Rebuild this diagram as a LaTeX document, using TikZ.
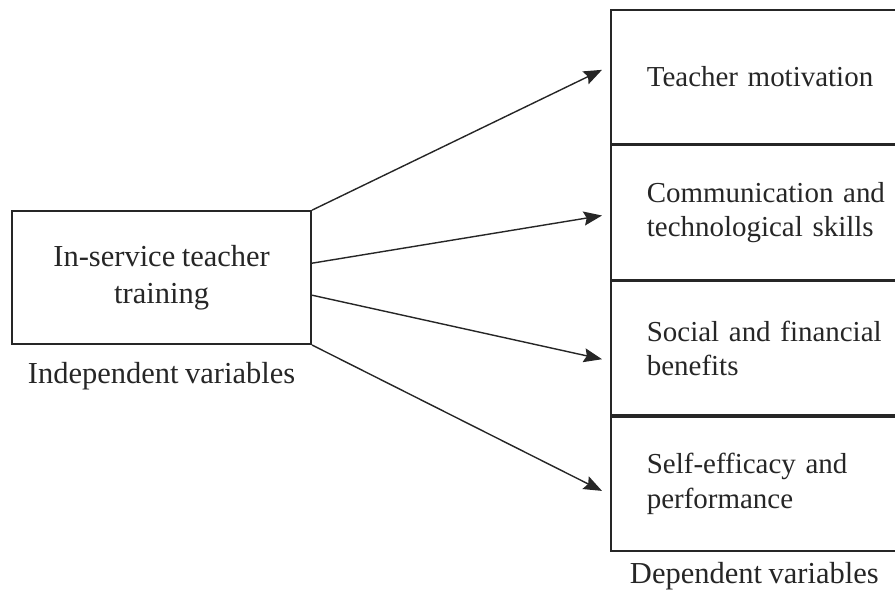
\documentclass[tikz,border=0pt]{standalone}
\usepackage{fontspec}
\setmainfont[WordSpace=0.85]{Liberation Serif}
\usepackage{tikz}
\usetikzlibrary{arrows.meta,positioning}

\begin{document}
\begin{tikzpicture}[node distance=0cm, >={Stealth[length=13pt,width=10pt,inset=2pt]},
	font=\fontsize{21.7}{26}\selectfont, black!85]

	\tikzstyle{ivbox}=[draw,line width=1.3pt,minimum width=7.475cm,minimum height=3.325cm,align=center]
	\tikzstyle{dvbox}=[draw,line width=1.2pt,minimum height=3.35cm,text width=7cm,inner xsep=0.9cm,align=left,font=\fontsize{20.6}{24.5}\selectfont]
	\tikzstyle{arr}=[->,line width=1pt]

	\useasboundingbox (0,0) rectangle (22.375,-14.85);
	\clip (0,0) rectangle (22.375,-14.85);

	% independent side
	\node[ivbox] (ivbox) at (4.04,-6.94) {In-service teacher\\training};
	\node[below=0.3cm of ivbox] (ivlabel) {Independent variables};

	% dependent side, stacked boxes
	\node[dvbox,anchor=north west] (motiv) at (15.25,-0.225) {Teacher motivation};
	\node[dvbox] (skills) [below=of motiv] {Communication and\\technological skills};
	\node[dvbox] (benefit) [below=of skills] {Social and financial\\benefits};
	\node[dvbox] (perform) [below=of benefit] {Self-efficacy and\\performance};
	\node[anchor=west] (dvlabel) at ([xshift=0.375cm,yshift=-0.62cm]perform.south west) {Dependent variables};

	% from the training box to every outcome
	\draw[arr] (ivbox.north east) -- ([xshift=-0.2cm,yshift=0.175cm]motiv.west);
	\draw[arr] ([yshift=0.36cm]ivbox.east) -- ([xshift=-0.2cm,yshift=-0.075cm]skills.west);
	\draw[arr] ([yshift=-0.44cm]ivbox.east) -- ([xshift=-0.2cm,yshift=-0.275cm]benefit.west);
	\draw[arr] (ivbox.south east) -- ([xshift=-0.2cm,yshift=-0.175cm]perform.west);

\end{tikzpicture}
\end{document}
